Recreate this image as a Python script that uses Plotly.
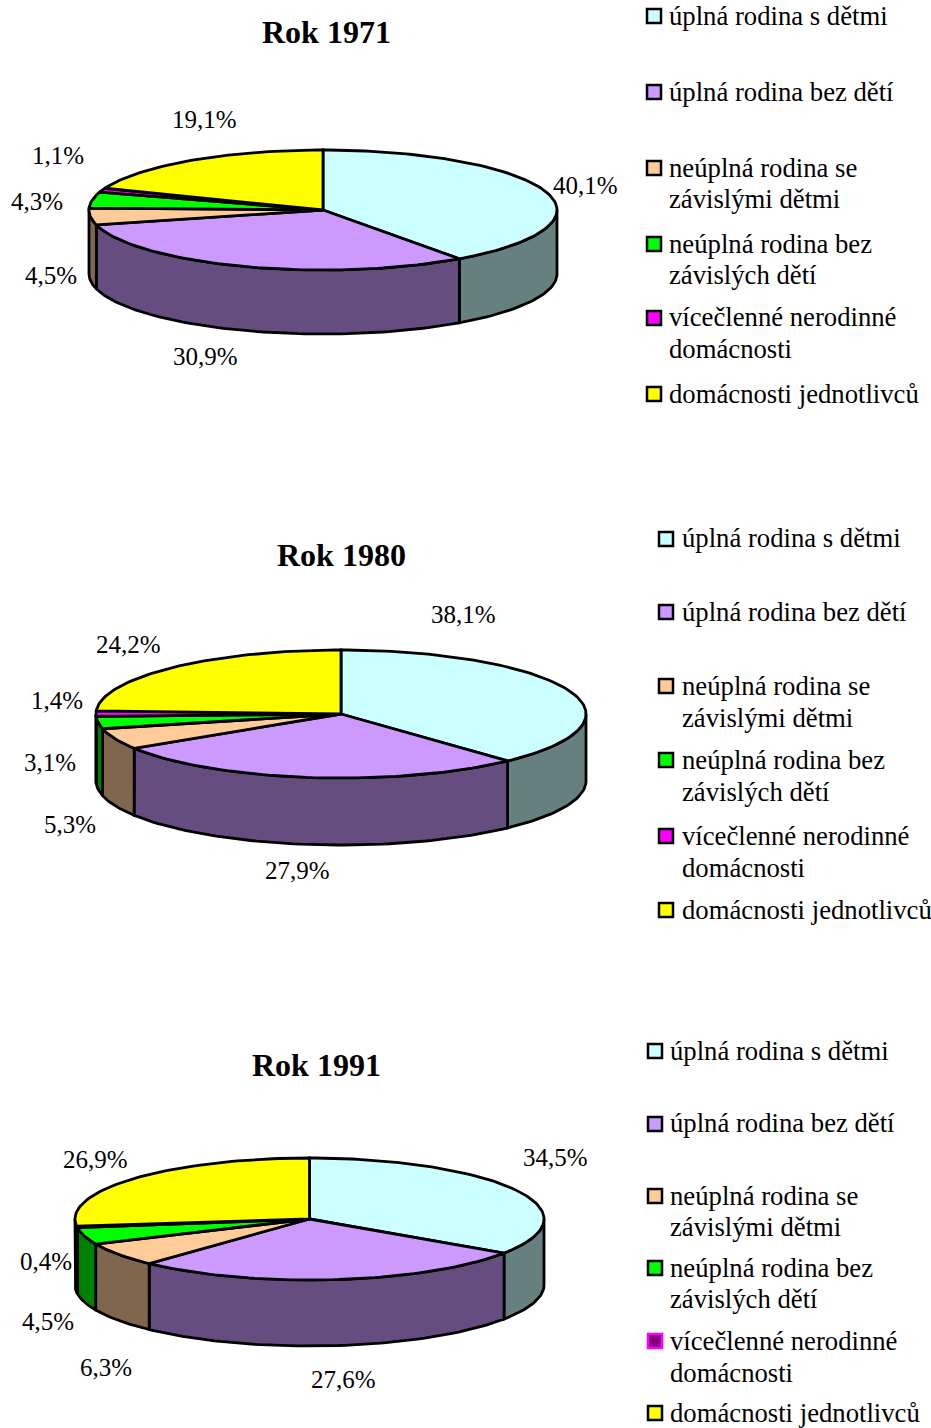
import math
import plotly.graph_objects as go

# ---------- data ----------
categories = ["úplná rodina s dětmi", "úplná rodina bez dětí", "neúplná rodina se závislými dětmi",
              "neúplná rodina bez závislých dětí", "vícečlenné nerodinné domácnosti", "domácnosti jednotlivců"]
legend_lines = [["úplná rodina s dětmi"], ["úplná rodina bez dětí"], ["neúplná rodina se", "závislými dětmi"],
                ["neúplná rodina bez", "závislých dětí"], ["vícečlenné nerodinné", "domácnosti"], ["domácnosti jednotlivců"]]
values_1971 = [40.1, 30.9, 4.5, 4.3, 1.1, 19.1]
values_1980 = [38.1, 27.9, 5.3, 3.1, 1.4, 24.2]
values_1991 = [34.5, 27.6, 6.3, 4.5, 0.4, 26.9]
top_colors = ["#CCFFFF", "#CC99FF", "#FFCC99", "#00FF00", "#FF00FF", "#FFFF00"]
side_colors = ["#668080", "#664D80", "#80664D", "#008000", "#800080", "#808000"]

# ---------- layout of each panel ----------
panels = [
    dict(title="Rok 1971", values=values_1971, cx=323, cy=210, rx=234, ry=60, depth=64, title_xy=(326, 32),
         labels_xy=[(585, 185), (205, 356), (51, 275), (37, 201), (58, 155), (204, 119)],
         sq_x=654, text_x=669, sq_y=[16, 92, 168, 244, 318, 394],
         text_y=[[16], [92], [168, 199], [244, 275], [317, 349], [394]],
         sq_fill=top_colors, sq_line=["black"] * 6),
    dict(title="Rok 1980", values=values_1980, cx=341, cy=714, rx=245, ry=64, depth=67, title_xy=(341, 555),
         labels_xy=[(463, 614), (297, 870), (70, 824), (50, 762), (57, 700), (128, 644)],
         sq_x=666, text_x=682, sq_y=[539, 612, 686, 760, 836, 910],
         text_y=[[538], [612], [686, 718], [760, 792], [836, 868], [910]],
         sq_fill=top_colors, sq_line=["black"] * 6),
    dict(title="Rok 1991", values=values_1991, cx=309.5, cy=1219, rx=234.5, ry=61, depth=66, title_xy=(316, 1065),
         labels_xy=[(555, 1157), (343, 1379), (106, 1367), (48, 1321), (46, 1261), (95, 1159)],
         sq_x=655, text_x=670, sq_y=[1051, 1124, 1196, 1268, 1341, 1413],
         text_y=[[1051], [1123], [1196, 1227], [1268, 1299], [1341, 1373], [1413]],
         sq_fill=top_colors[:4] + ["#800080", "#FFFF00"], sq_line=["black"] * 4 + ["#FF00FF", "black"]),
]

SERIF = "Liberation Serif"
LABEL_SIZE = 25
LEGEND_SIZE = 26.7
TITLE_SIZE = 32
LW = 2.8


def arc(p, a0, a1, dz=0.0):
    n = max(2, int(abs(a1 - a0) / 1.5) + 2)
    xs, ys = [], []
    for i in range(n):
        t = math.radians(a0 + (a1 - a0) * i / (n - 1))
        xs.append(p["cx"] + p["rx"] * math.sin(t))
        ys.append(p["cy"] - p["ry"] * math.cos(t) + dz)
    return xs, ys


def poly(xs, ys, color):
    return go.Scatter(x=xs + xs[:1], y=ys + ys[:1], mode="lines", fill="toself", fillcolor=color,
                      line=dict(color="black", width=LW), hoverinfo="skip", showlegend=False)


fig = go.Figure()
annotations = []


def add_text(x, y, text, size, bold=False, anchor="center"):
    annotations.append(dict(x=x, y=y, xref="x", yref="y", text=f"<b>{text}</b>" if bold else text,
                            showarrow=False, xanchor=anchor, yanchor="middle",
                            font=dict(family=SERIF, size=size, color="black")))


for p in panels:
    total = sum(p["values"])
    edges = [0.0]
    for v in p["values"]:
        edges.append(edges[-1] + v / total * 360)

    # side walls (only the front half is visible)
    for i in range(len(p["values"])):
        a0, a1 = max(edges[i], 90), min(edges[i + 1], 270)
        if a1 > a0:
            x0, y0 = arc(p, a0, a1)
            x1, y1 = arc(p, a0, a1, p["depth"])
            fig.add_trace(poly(x0 + x1[::-1], y0 + y1[::-1], side_colors[i]))

    # top wedges
    for i in range(len(p["values"])):
        xa, ya = arc(p, edges[i], edges[i + 1])
        fig.add_trace(poly([p["cx"]] + xa, [p["cy"]] + ya, top_colors[i]))

    # value labels
    for v, (lx, ly) in zip(p["values"], p["labels_xy"]):
        add_text(lx, ly, f"{v:.1f}%".replace(".", ","), LABEL_SIZE)

    add_text(p["title_xy"][0], p["title_xy"][1], p["title"], TITLE_SIZE, bold=True)

    # legend
    fig.add_trace(go.Scatter(x=[p["sq_x"]] * 6, y=p["sq_y"], mode="markers", hoverinfo="skip", showlegend=False,
                             marker=dict(symbol="square", size=14, color=p["sq_fill"],
                                         line=dict(color=p["sq_line"], width=2.5))))
    for lines, ys in zip(legend_lines, p["text_y"]):
        for line, ty in zip(lines, ys):
            add_text(p["text_x"] - 2, ty, line, LEGEND_SIZE, anchor="left")

fig.update_layout(
    width=931, height=1428, margin=dict(l=0, r=0, t=0, b=0),
    paper_bgcolor="white", plot_bgcolor="white", showlegend=False, annotations=annotations,
    xaxis=dict(range=[0, 931], visible=False, fixedrange=True),
    yaxis=dict(range=[1428, 0], visible=False, fixedrange=True),
)
fig.write_html("out.html", config={"displayModeBar": False},
               post_script="document.body.style.margin='0';document.body.style.overflow='hidden';")
